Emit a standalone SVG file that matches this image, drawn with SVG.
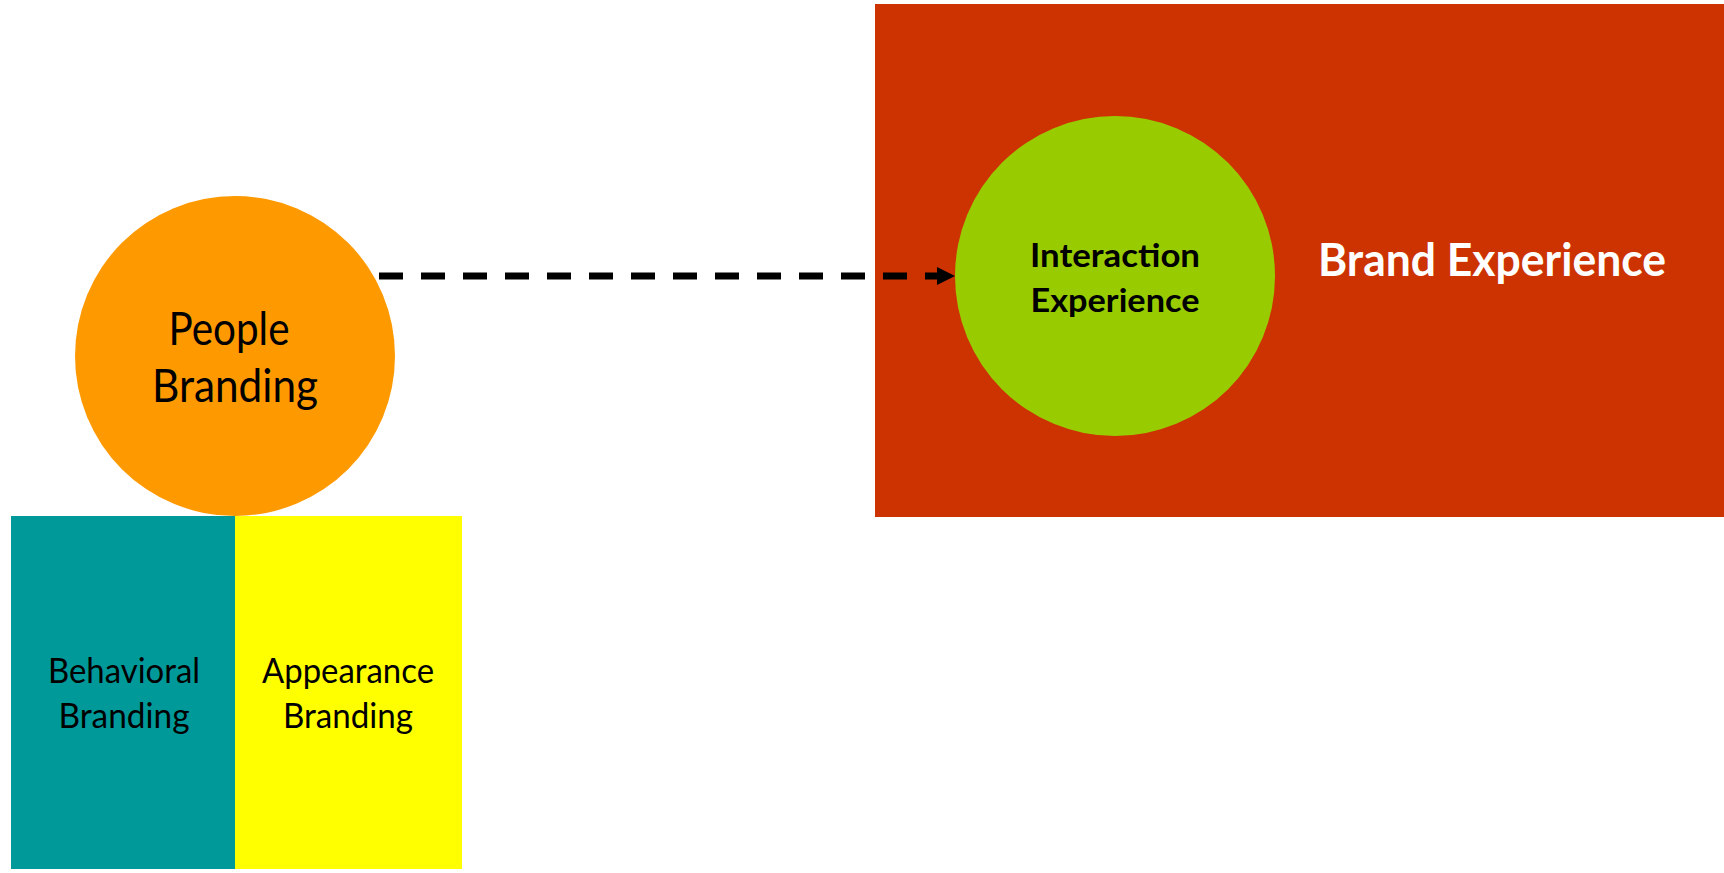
<svg xmlns="http://www.w3.org/2000/svg" width="1724" height="873" viewBox="0 0 1724 873">
  <style>
    .lbl { font-family: Lato, "Liberation Sans", sans-serif; fill: #000; text-anchor: middle; }
    .bold { font-weight: bold; }
    .white { fill: #fff; }
  </style>
  <rect width="1724" height="873" fill="#fff"/>

  <!-- Brand Experience area with inner Interaction Experience circle -->
  <g id="brand-experience">
    <rect x="875" y="4" width="849" height="513" fill="#CC3300"/>
    <text class="lbl bold white" x="1492" y="276" font-size="45" textLength="348" lengthAdjust="spacingAndGlyphs">Brand Experience</text>
  </g>
  <g id="interaction-experience">
    <circle cx="1115" cy="276" r="160" fill="#99CC00"/>
    <text class="lbl bold" x="1115" y="267" font-size="33" textLength="170" lengthAdjust="spacingAndGlyphs">Interaction</text>
    <text class="lbl bold" x="1115" y="312" font-size="33" textLength="169" lengthAdjust="spacingAndGlyphs">Experience</text>
  </g>

  <!-- People Branding and its two pillars -->
  <g id="behavioral-branding">
    <rect x="11" y="516" width="224" height="353" fill="#009999"/>
    <text class="lbl" x="124" y="683" font-size="35" textLength="152" lengthAdjust="spacingAndGlyphs">Behavioral</text>
    <text class="lbl" x="124" y="728" font-size="35" textLength="131" lengthAdjust="spacingAndGlyphs">Branding</text>
  </g>
  <g id="appearance-branding">
    <rect x="235" y="516" width="227" height="353" fill="#FFFF00"/>
    <text class="lbl" x="348" y="683" font-size="35" textLength="172" lengthAdjust="spacingAndGlyphs">Appearance</text>
    <text class="lbl" x="348" y="728" font-size="35" textLength="130" lengthAdjust="spacingAndGlyphs">Branding</text>
  </g>
  <g id="people-branding">
    <circle cx="235" cy="356" r="160" fill="#FF9900"/>
    <text class="lbl" x="229" y="345" font-size="46" textLength="121" lengthAdjust="spacingAndGlyphs">People</text>
    <text class="lbl" x="235" y="402" font-size="46" textLength="166" lengthAdjust="spacingAndGlyphs">Branding</text>
  </g>

  <!-- Connectors -->
  <g id="connectors">
    <line x1="379" y1="276" x2="937" y2="276" stroke="#000" stroke-width="7" stroke-dasharray="24 18"/>
    <path d="M937,267 L955,276 L937,285 Z" fill="#000"/>
  </g>
</svg>
